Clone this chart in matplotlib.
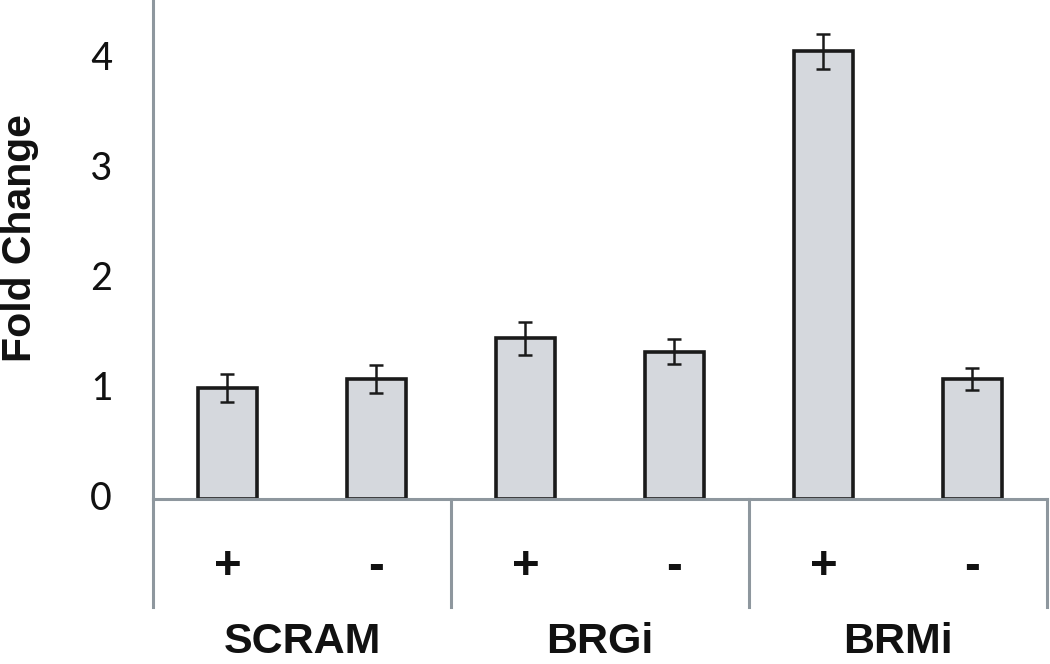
import matplotlib.pyplot as plt
from matplotlib import font_manager

# data
groups = ['SCRAM', 'BRGi', 'BRMi']
signs = ['+', '-', '+', '-', '+', '-']
fold = [1.01, 1.09, 1.46, 1.34, 4.07, 1.09]
err = [0.13, 0.13, 0.15, 0.11, 0.16, 0.10]
yticks = [0, 1, 2, 3, 4]

installed = {f.name for f in font_manager.fontManager.ttflist}
tick_font = 'Carlito' if 'Carlito' in installed else 'Lato'
tick_size = 31 if tick_font == 'Carlito' else 28

grey = '#8e979e'

fig = plt.figure(figsize=(10.5, 6.64), dpi=100)
ax = fig.add_axes([0.1457, 0.2485, 0.8513, 0.7515])

x = list(range(len(fold)))
ax.bar(x, fold, width=0.4, color='#d5d8dd', edgecolor='#1a1a1a', linewidth=2.6, zorder=2)
ax.errorbar(x, fold, yerr=err, fmt='none', ecolor='#1a1a1a', elinewidth=1.8,
            capsize=5, capthick=1.8, zorder=3)

ax.set_xlim(-0.5, 5.5)
ax.set_ylim(0, 4.536)

for s in ['top', 'right', 'bottom']:
    ax.spines[s].set_visible(False)
ax.spines['left'].set_color(grey)
ax.spines['left'].set_linewidth(2.2)

ax.set_yticks(yticks)
ax.set_yticklabels([])
ax.tick_params(axis='y', length=0)
ax.set_xticks([])

# y tick labels drawn by hand so the font sticks
ytrans = ax.get_yaxis_transform()
for v in yticks:
    ax.text(-0.058, v, str(v), transform=ytrans, ha='center', va='center',
            fontsize=tick_size, family=tick_font, color='#111111')

trans = ax.get_xaxis_transform()
# baseline and group separators
ax.plot([-0.5, 5.5], [0, 0], color=grey, lw=2.2, transform=trans, clip_on=False, zorder=4)
for xs in [-0.5, 1.5, 3.5, 5.5]:
    ax.plot([xs, xs], [0, -0.216], color=grey, lw=2.2, transform=trans, clip_on=False)

for i, s in enumerate(signs):
    ax.text(i, -0.136, s, transform=trans, ha='center', va='center',
            fontsize=34, fontweight='bold', family='Liberation Sans', color='#111111')

for j, g in enumerate(groups):
    ax.text(2 * j + 0.5, -0.309, g, transform=trans, ha='center', va='baseline',
            fontsize=31, fontweight='bold', family='Liberation Sans', color='#111111')

fig.text(0.019, 0.641, 'Fold Change', rotation=90, ha='center', va='center',
         fontsize=29.5, fontweight='bold', family='Liberation Sans', color='#111111')

plt.savefig('out.png', dpi=100)
